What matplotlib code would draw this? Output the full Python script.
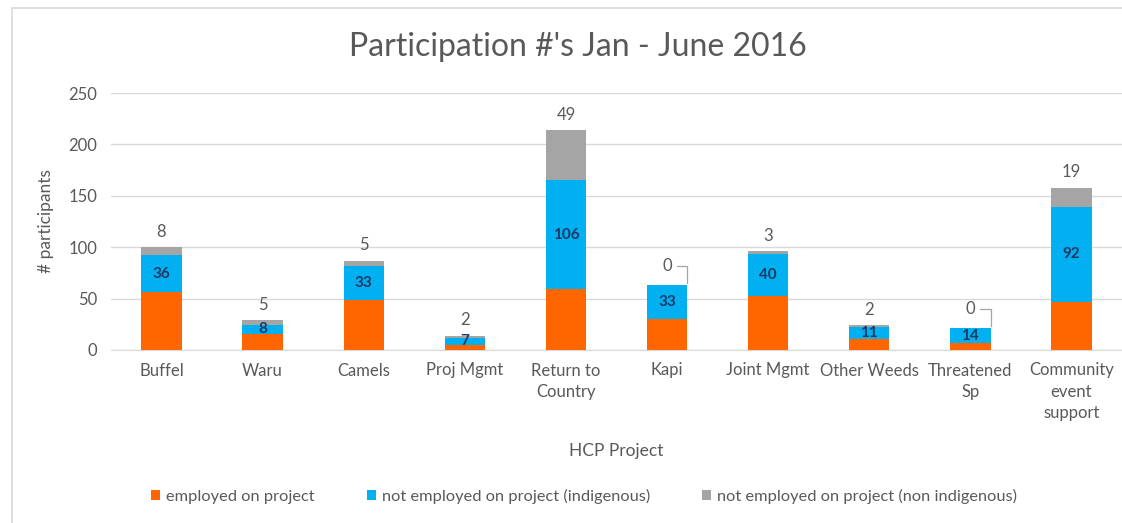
import numpy as np
import matplotlib.pyplot as plt
from matplotlib.patches import Rectangle

plt.rcParams['font.family'] = ['Lato', 'DejaVu Sans']

projects = ['Buffel', 'Waru', 'Camels', 'Proj Mgmt', 'Return to\nCountry', 'Kapi',
            'Joint Mgmt', 'Other Weeds', 'Threatened\nSp', 'Community\nevent\nsupport']
employed = [56, 16, 49, 5, 59, 30, 53, 11, 7, 47]
not_emp_indig = [36, 8, 33, 7, 106, 33, 40, 11, 14, 92]
not_emp_non_indig = [8, 5, 5, 2, 49, 0, 3, 2, 0, 19]

series_names = ['employed on project', 'not employed on project (indigenous)',
                'not employed on project (non indigenous)']
colors = ['#FF6600', '#00B0F0', '#A5A5A5']
txt = '#595959'

W, H = 1122, 523
fig = plt.figure(figsize=(W / 100, H / 100), dpi=100)
ax = fig.add_axes([111 / W, 1 - 350 / H, (W - 111) / W, 257 / H])

x = np.arange(len(projects))
emp = np.array(employed)
ind = np.array(not_emp_indig)
non = np.array(not_emp_non_indig)
bw = 0.4

b1 = ax.bar(x, emp, bw, color=colors[0], label=series_names[0], zorder=3)
b2 = ax.bar(x, ind, bw, bottom=emp, color=colors[1], label=series_names[1], zorder=3)
b3 = ax.bar(x, non, bw, bottom=emp + ind, color=colors[2], label=series_names[2], zorder=3)

ax.set_ylim(0, 250)
ax.set_xlim(-0.5, len(projects) - 0.5)
ax.set_yticks(range(0, 251, 50))
ax.grid(axis='y', color='#D9D9D9', lw=1, zorder=0)
for s in ['top', 'right', 'left']:
    ax.spines[s].set_visible(False)
ax.spines['bottom'].set_color('#D9D9D9')
ax.tick_params(length=0, colors=txt, labelsize=12)
ax.tick_params(axis='y', pad=10)
ax.tick_params(axis='x', pad=9)
ax.set_xticks(x)
ax.set_xticklabels(projects, linespacing=1.4)

# blue segment labels
for i in range(len(x)):
    ax.text(x[i], emp[i] + ind[i] / 2, str(ind[i]), ha='center', va='center',
            fontsize=11, fontweight='bold', color='#1F3864', zorder=4)

# gray labels above the bars, with a leader line when the value is 0
tot = emp + ind + non
for i in range(len(x)):
    if non[i] > 0:
        ax.annotate(str(non[i]), (x[i], tot[i]), xytext=(0, 11), textcoords='offset points',
                    ha='center', va='center', fontsize=12, color=txt)
    else:
        ly = tot[i] + 19
        ax.text(x[i], ly, '0', ha='center', va='center', fontsize=12, color=txt)
        ax.plot([x[i] + 0.1, x[i] + bw / 2, x[i] + bw / 2], [ly, ly, tot[i] + 2],
                color='#A5A5A5', lw=0.9, zorder=4)

ax.set_ylabel('# participants', fontsize=12.5, color=txt, labelpad=10)
ax.set_xlabel('HCP Project', fontsize=12.5, color=txt, labelpad=16)

fig.text(578 / W, 1 - 47 / H, "Participation #'s Jan - June 2016", ha='center', va='center',
         fontsize=23, color=txt)

fig.legend(handles=[b1, b2, b3], labels=series_names, loc='center', ncol=3,
           bbox_to_anchor=(584 / W, 1 - 496 / H), frameon=False, fontsize=11.8,
           labelcolor=txt, handlelength=0.55, handleheight=0.55, handletextpad=0.35,
           columnspacing=3.2)

fig.patches.append(Rectangle((12 / W, -0.1), 1.2, 1.1 - 8 / H, transform=fig.transFigure,
                             fill=False, edgecolor='#D9D9D9', lw=1.2))

fig.savefig('out.png', dpi=100)
